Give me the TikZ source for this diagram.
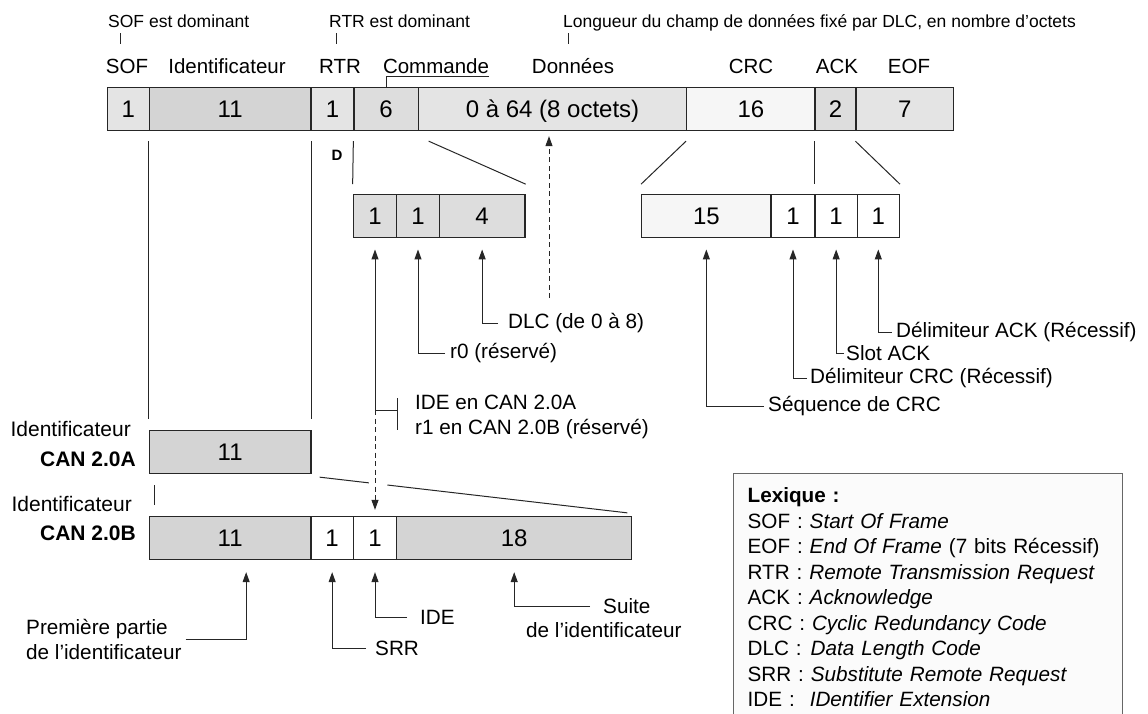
\documentclass[tikz,border=0pt]{standalone}
\usepackage{fontspec}
\setmainfont{Liberation Sans}
\usepackage{tikz}
\usetikzlibrary{arrows.meta, positioning, calc}
\definecolor{idgray}{gray}{0.83}
\definecolor{fldgray}{gray}{0.895}
\definecolor{midgray}{gray}{0.865}
\definecolor{crcpale}{gray}{0.965}
\definecolor{lexfill}{gray}{0.985}
\definecolor{lexline}{gray}{0.40}
\tikzstyle{cell} = [rectangle, draw=black!85, line width=1.3pt, minimum height=43pt, inner sep=0pt, text height=17pt, text depth=0pt, font=\fontsize{24}{28}\selectfont]
\tikzstyle{head} = [anchor=base, inner sep=0pt, font=\fontsize{20.5}{24}\selectfont]
\tikzstyle{note} = [anchor=base west, inner sep=0pt, font=\fontsize{17.5}{21}\selectfont]
\tikzstyle{lab} = [anchor=west, inner sep=0pt, align=left, font=\fontsize{20.7}{25}\selectfont]
\tikzstyle{side} = [anchor=east, inner sep=0pt, font=\fontsize{21}{25}\selectfont]
\tikzstyle{link} = [line width=1pt, draw=black!85]
\tikzstyle{arr} = [link, -{Triangle[length=10pt, width=7pt]}]
\tikzstyle{dashln} = [dash pattern=on 5pt off 3.5pt]

\begin{document}
\begin{tikzpicture}[x=1pt, y=-1pt]
  \useasboundingbox (0,0) rectangle (1148,713);
  % ---------- notes above the frame ----------
  \node[note] (nsof)  at (108,27) {SOF est dominant};
  \node[note] (nrtr)  at (329,27) {RTR est dominant};
  \node[note] (ndata) at (563,27) {Longueur du champ de données fixé par DLC, en nombre d'octets};
  \draw[link] ([xshift=12pt,yshift=-6pt]nsof.base west) -- ++(0,11);
  \draw[link] ([xshift=7.7pt,yshift=-6pt]nrtr.base west) -- ++(0,11);
  \draw[link] ([xshift=5pt,yshift=-6pt]ndata.base west) -- ++(0,11);
  % ---------- field names ----------
  \node[head] (hsof)   at (127,73) {SOF};
  \node[head] (hident) at (227,73) {Identificateur};
  \node[head] (hrtr)   at (340,73) {RTR};
  \node[head] (hcmd)   at (436,73) {Commande};
  \node[head] (hdata)  at (573,73) {Données};
  \node[head] (hcrc)   at (751,73) {CRC};
  \node[head] (hack)   at (837,73) {ACK};
  \node[head] (heof)   at (909,73) {EOF};
  % ---------- frame (y=109) ----------
  \node[cell, fill=fldgray, minimum width=42]    (sof)   at (128.3,109) {1};
  \node[cell, fill=idgray, minimum width=161.7]  (ident) at (230.15,109) {11};
  \node[cell, fill=fldgray, minimum width=43]    (rtr)   at (332.5,109) {1};
  \node[cell, fill=midgray, minimum width=64.3]  (cmd)   at (386.15,109) {6};
  \node[cell, fill=fldgray, minimum width=268.4] (data)  at (552.5,109) {0 à 64 (8 octets)};
  \node[cell, fill=crcpale, minimum width=128.3] (crc)   at (750.85,109) {16};
  \node[cell, fill=midgray, minimum width=41]    (ack)   at (835.5,109) {2};
  \node[cell, fill=fldgray, minimum width=97.5]  (eof)   at (904.75,109) {7};
  \draw[link] ([yshift=-3.5pt]hcmd.south east) -| (cmd.north);
  \node[inner sep=0pt, font=\bfseries\fontsize{15}{18}\selectfont] (dmark) at (337,155) {D};
  % ---------- command and CRC details (y=216) ----------
  \node[cell, fill=midgray, minimum width=43.4]  (ide)     at (375,216.3) {1};
  \node[cell, fill=midgray, minimum width=42.6]  (rzero)   at (418,216.3) {1};
  \node[cell, fill=midgray, minimum width=85.7]  (dlc)     at (482.15,216.3) {4};
  \node[cell, fill=crcpale, minimum width=129.3] (crcseq)  at (706.35,216.3) {15};
  \node[cell, fill=white, minimum width=44]      (crcdel)  at (793,216.3) {1};
  \node[cell, fill=white, minimum width=42.3]    (ackslot) at (836.15,216.3) {1};
  \node[cell, fill=white, minimum width=42]      (ackdel)  at (878.3,216.3) {1};
  % zoom lines
  \draw[link] ([yshift=-10pt]cmd.south west) -- ([yshift=10pt]ide.north west);
  \draw[link] ([xshift=11pt,yshift=-10pt]data.south west) -- ([yshift=10pt]dlc.north east);
  \draw[link] ([yshift=-10pt]crc.south west) -- ([yshift=10pt]crcseq.north west);
  \draw[link] ([yshift=-10pt]ack.south west) -- ([yshift=10pt]ackslot.north west);
  \draw[link] ([yshift=-10pt]eof.south west) -- ([yshift=10pt]ackdel.north east);
  % ---------- labels of the details ----------
  \node[lab] (dlclab)    at (508,323) {DLC (de 0 à 8)};
  \node[lab] (r0lab)     at (450,353) {r0 (réservé)};
  \node[lab] (idelab)    at (415,417) {IDE en CAN 2.0A\\r1 en CAN 2.0B (réservé)};
  \node[lab] (ackdellab) at (896,332) {Délimiteur ACK (Récessif)};
  \node[lab] (slotlab)   at (846,353) {Slot ACK};
  \node[lab] (crcdellab) at (810,378) {Délimiteur CRC (Récessif)};
  \node[lab] (seqlab)    at (768,406) {Séquence de CRC};
  \draw[arr] ([xshift=-10pt]dlclab.west) -| ([yshift=-11pt]dlc.south);
  \draw[arr] ([xshift=-5pt]r0lab.west) -| ([yshift=-11pt]rzero.south);
  \draw[arr] ([xshift=-4pt]seqlab.west) -| ([yshift=-11pt]crcseq.south);
  \draw[arr] ([xshift=-3pt]crcdellab.west) -| ([yshift=-11pt]crcdel.south);
  \draw[arr] ([xshift=-2pt]slotlab.west) -| ([yshift=-11pt]ackslot.south);
  \draw[arr] ([xshift=-4.5pt]ackdellab.west) -| ([yshift=-11pt]ackdel.south);
  \coordinate (dlcend) at (549,298);
  \draw[arr, dashln, shorten >=5pt] (dlcend) -- (dlcend |- data.south);
  % ---------- identifier, CAN 2.0A ----------
  \node[cell, fill=idgray, minimum width=161.7] (idA) at (230.15,452) {11};
  \node[side] (lblA1) at (131,429) {Identificateur};
  \node[side, font=\bfseries\fontsize{21}{25}\selectfont] (lblA2) at (136,459) {CAN 2.0A};
  \draw[link] ([yshift=-10pt]ident.south west) -- ([yshift=11pt]idA.north west);
  \draw[link] ([yshift=-10pt]ident.south east) -- ([yshift=11pt]idA.north east);
  % ---------- identifier, CAN 2.0B ----------
  \node[cell, fill=idgray, minimum width=161.7] (idB)  at (230.15,538) {11};
  \node[cell, fill=white, minimum width=42.3]   (srr)  at (332.15,538) {1};
  \node[cell, fill=white, minimum width=43.4]   (ideB) at (375,538) {1};
  \node[cell, fill=idgray, minimum width=235]   (ext)  at (514.2,538) {18};
  \node[side] (lblB1) at (132,504) {Identificateur};
  \node[side, font=\bfseries\fontsize{21}{25}\selectfont] (lblB2) at (136,533) {CAN 2.0B};
  \draw[link] ([xshift=6pt,yshift=-11pt]idA.south west) -- ([xshift=6pt,yshift=11pt]idB.north west);
  \coordinate (ga) at ($(idA.south east)+(8,3)$);
  \coordinate (gb) at ($(ext.north east)+(-5,-3)$);
  \draw[link] (ga) -- ($(ga)!0.16!(gb)$) ($(ga)!0.22!(gb)$) -- (gb);
  % IDE / r1 bit: solid up, dashed down
  \coordinate (brk) at (375,410);
  \draw[arr] (brk) -- ([yshift=-11pt]ide.south);
  \draw[arr, dashln] (brk) -- ([yshift=6pt]ideB.north);
  \draw[link] (brk) -- ++(22,0) ++(0,-12) -- ++(0,32);
  % ---------- labels of CAN 2.0B ----------
  \node[lab] (premlab)   at (26,639)  {Première partie\\de l'identificateur};
  \node[lab] (srrlab)    at (375,648) {SRR};
  \node[lab] (idelabB)   at (420,617) {IDE};
  \node[lab] (suitelab)  at (603,606) {Suite};
  \node[lab] (suitelab2) at (526,630) {de l'identificateur};
  \draw[arr] ([xshift=4pt]premlab.east) -| ([xshift=16pt,yshift=-12pt]idB.south);
  \draw[arr] ([xshift=-9pt]srrlab.west) -| ([yshift=-12pt]srr.south);
  \draw[arr] ([xshift=-13pt]idelabB.west) -| ([yshift=-12pt]ideB.south);
  \draw[arr] ([xshift=-13pt]suitelab.west) -| ([yshift=-12pt]ext.south);
  % ---------- lexique ----------
  \node[draw=lexline, fill=lexfill, line width=1.2pt, anchor=north west, text width=361pt,
        inner xsep=14pt, inner ysep=14pt, align=left, font=\fontsize{20.7}{25.5}\selectfont] (lex) at (733,473)
    {\textbf{Lexique :}\\
     SOF : \textit{Start Of Frame}\\
     EOF : \textit{End Of Frame} (7 bits Récessif)\\
     RTR : \textit{Remote Transmission Request}\\
     ACK : \textit{Acknowledge}\\
     CRC : \textit{Cyclic Redundancy Code}\\
     DLC :\hspace{9pt}\textit{Data Length Code}\\
     SRR : \textit{Substitute Remote Request}\\
     IDE :\hspace{15pt}\textit{IDentifier Extension}};
\end{tikzpicture}
\end{document}
